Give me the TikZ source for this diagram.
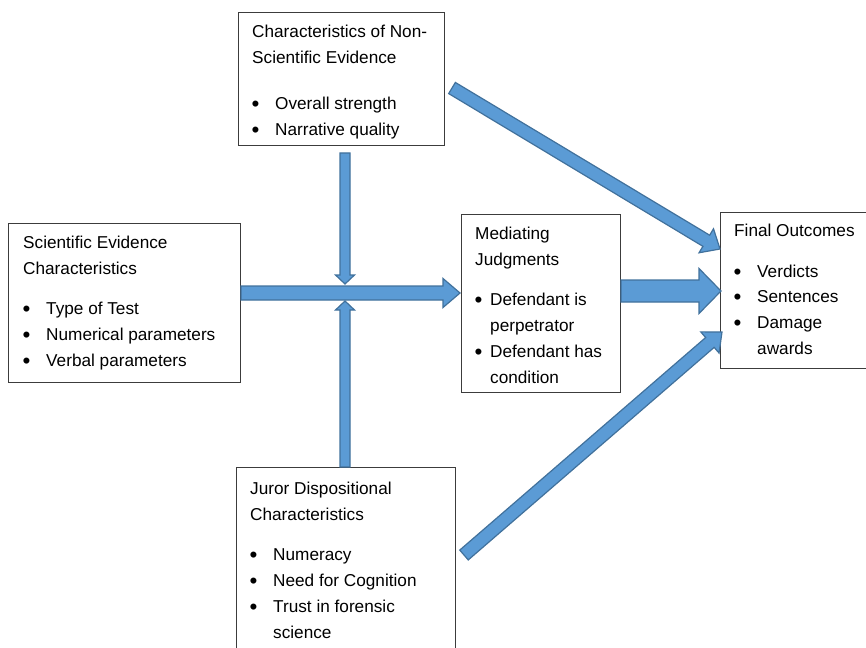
\documentclass[tikz,border=0pt]{standalone}
\usepackage{fontspec}
\setmainfont{Liberation Sans}
\usetikzlibrary{calc}

\definecolor{arrowfill}{RGB}{91,155,213}
\definecolor{arrowline}{RGB}{65,113,156}
\definecolor{boxline}{RGB}{60,60,60}

% bullet with the gap up to the item text
\newcommand{\bul}[1][23pt]{\makebox[#1][l]{\hspace{-0.5pt}\raisebox{-2pt}{\scalebox{1.3}{\textbullet}}}}
% fat arrow: start, tip, half shaft, half head, head length
\newcommand{\blockarrow}[5]{%
\coordinate (ba-h) at ($(#2)!#5!(#1)$);
\draw[fatarrow] ($(#1)!#3!90:(#2)$) -- ($(ba-h)!#3!90:(#2)$) -- ($(ba-h)!#4!90:(#2)$)
  -- (#2) -- ($(ba-h)!#4!-90:(#2)$) -- ($(ba-h)!#3!-90:(#2)$) -- ($(#1)!#3!-90:(#2)$) -- cycle;
}

\tikzset{
box/.style={draw=boxline, line width=1pt, anchor=north west, inner sep=0pt},
txt/.style={anchor=north west, inner sep=0pt, align=left, font=\fontsize{17.2}{25.8}\selectfont},
fatarrow/.style={draw=arrowline, fill=arrowfill, line width=1.2pt, line join=miter},
}

\begin{document}
\begin{tikzpicture}[x=1pt, y=-1pt]
\useasboundingbox (0,0) rectangle (866,647);

\node[box, minimum width=206pt, minimum height=133pt] (nonsci) at (238,12) {};
\node[txt] (nonsciT) at ([shift={(14pt,-7pt)}]nonsci.north west)
  {\strut Characteristics of Non-\\Scientific Evidence\\[21pt]\bul Overall strength\\\bul Narrative quality};

\node[box, minimum width=232pt, minimum height=159pt] (sci) at (8,223) {};
\node[txt] (sciT) at ([shift={(15pt,-7pt)}]sci.north west)
  {\strut Scientific Evidence\\Characteristics\\[15pt]\bul Type of Test\\\bul Numerical parameters\\\bul Verbal parameters};

\node[box, minimum width=159pt, minimum height=178pt] (med) at (461,214) {};
\node[txt] (medT) at ([shift={(14pt,-7pt)}]med.north west)
  {\strut Mediating\\Judgments\\[15pt]\bul[15pt]Defendant is\\\hspace{15pt}perpetrator\\\bul[15pt]Defendant has\\\hspace{15pt}condition};

\node[box, minimum width=145.5pt, minimum height=156pt] (fin) at (720,212) {};
\node[txt] (finT) at ([shift={(14pt,-6pt)}]fin.north west)
  {\strut Final Outcomes\\[15pt]\bul Verdicts\\\bul Sentences\\\bul Damage\\\hspace{23pt}awards};

\node[box, minimum width=219pt, minimum height=200pt] (jur) at (236,467) {};
\node[txt] (jurT) at ([shift={(14pt,-9pt)}]jur.north west)
  {\strut Juror Dispositional\\Characteristics\\[15pt]\bul Numeracy\\\bul Need for Cognition\\\bul Trust in forensic\\\hspace{23pt}science};

% arrows
\coordinate (cross) at (345,293);
\coordinate (d1) at ([yshift=-7pt]nonsci.south -| cross);
\coordinate (d2) at ([yshift=9pt]cross);
\coordinate (u1) at (jur.north -| cross);
\coordinate (u2) at ([yshift=-8pt]cross);
\coordinate (h1) at (sci.east |- cross);
\coordinate (h2) at ([xshift=-1pt]med.west |- cross);
\coordinate (m1) at ([yshift=2pt]med.east |- cross);
\coordinate (m2) at ([yshift=2pt,xshift=1pt]fin.west |- cross);
\coordinate (t1) at (452,88);
\coordinate (t2) at ([yshift=-37pt]fin.north west);
\coordinate (b1) at (464,555);
\coordinate (b2) at ([yshift=37pt,xshift=2pt]fin.south west);

\blockarrow{d1}{d2}{5pt}{9.5pt}{9pt}
\blockarrow{u1}{u2}{5pt}{9.5pt}{9pt}
\blockarrow{h1}{h2}{7pt}{14.5pt}{17pt}
\blockarrow{m1}{m2}{11pt}{22.5pt}{22pt}
\blockarrow{t1}{t2}{6.5pt}{14pt}{16pt}
\blockarrow{b1}{b2}{6.5pt}{14pt}{16pt}
\end{tikzpicture}
\end{document}
